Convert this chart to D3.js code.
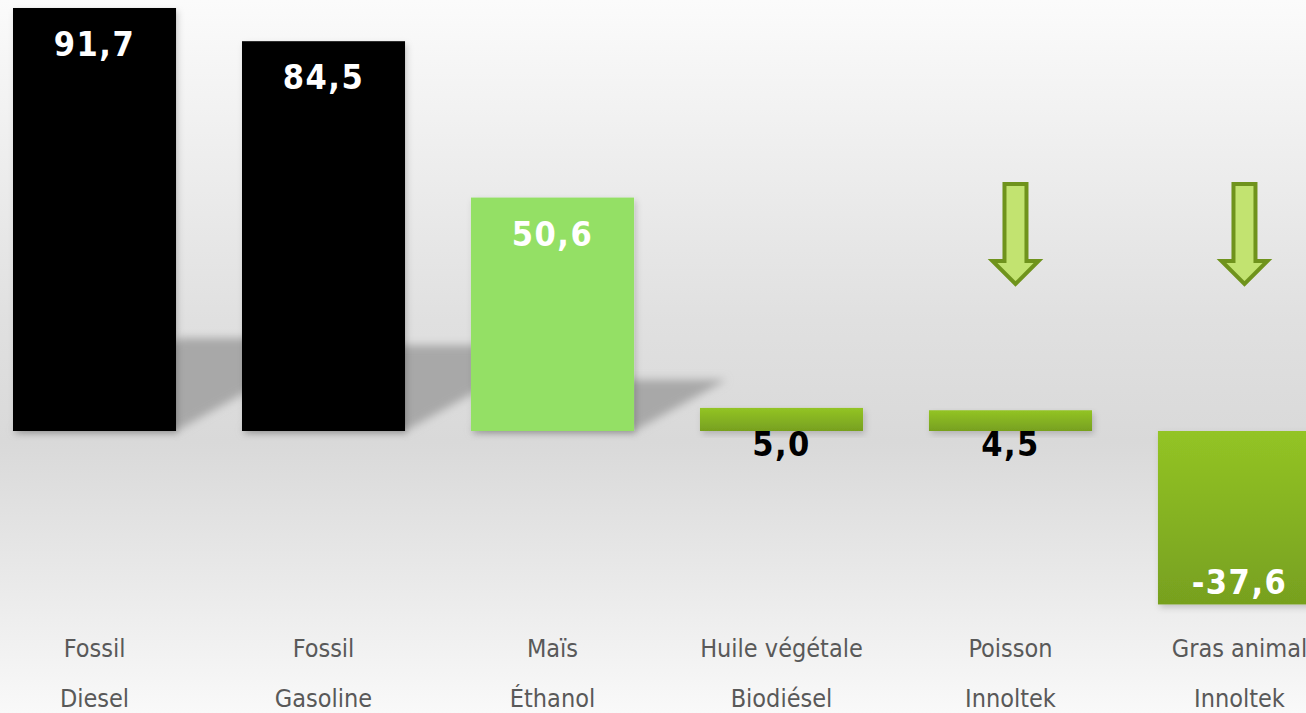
<!DOCTYPE html>
<html>
<head>
<meta charset="utf-8">
<script src="https://cdn.jsdelivr.net/npm/d3@7"></script>
<style>
  html, body { margin: 0; padding: 0; overflow: hidden; }
  svg { display: block; }
</style>
</head>
<body>
<div id="chart"></div>
<script>
// data
const line1 = ["Fossil", "Fossil", "Maïs", "Huile végétale", "Poisson", "Gras animal"];
const line2 = ["Diesel", "Gasoline", "Éthanol", "Biodiésel", "Innoltek", "Innoltek"];
const values = [91.7, 84.5, 50.6, 5.0, 4.5, -37.6];
const kinds = ["fossil", "fossil", "corn", "bio", "bio", "bio"];
const arrows = [false, false, false, false, true, true];

const width = 1306, height = 713;
// comma decimal, plain hyphen for negatives
const fmt = v => d3.format(".1f")(v).replace(".", ",").replace("\u2212", "-");

const svg = d3.select("#chart").append("svg")
    .attr("width", width)
    .attr("height", height);

const defs = svg.append("defs");

// background gradient
let bg = defs.append("linearGradient").attr("id", "bg")
    .attr("x1", 0).attr("y1", 0).attr("x2", 0).attr("y2", 1);
bg.append("stop").attr("offset", "0%").attr("stop-color", "#fbfbfb");
bg.append("stop").attr("offset", "45%").attr("stop-color", "#e0e0e0");
bg.append("stop").attr("offset", "62%").attr("stop-color", "#d9d9d9");
bg.append("stop").attr("offset", "100%").attr("stop-color", "#f9f9f9");

// green bar gradient
let gg = defs.append("linearGradient").attr("id", "greenGrad")
    .attr("x1", 0).attr("y1", 0).attr("x2", 0).attr("y2", 1);
gg.append("stop").attr("offset", "0%").attr("stop-color", "#93c425");
gg.append("stop").attr("offset", "100%").attr("stop-color", "#77a01f");

// blur for the floor shadows
defs.append("filter").attr("id", "blur")
    .attr("x", "-20%").attr("y", "-20%").attr("width", "140%").attr("height", "140%")
    .append("feGaussianBlur").attr("stdDeviation", 4.5);

// small drop shadow under bars
let ds = defs.append("filter").attr("id", "drop")
    .attr("x", "-10%").attr("y", "-10%").attr("width", "130%").attr("height", "140%");
ds.append("feDropShadow").attr("dx", 2).attr("dy", 3).attr("stdDeviation", 3)
    .attr("flood-color", "#000").attr("flood-opacity", 0.18);

svg.append("rect").attr("width", width).attr("height", height).attr("fill", "url(#bg)");

// scales
const x = d3.scaleBand()
    .domain(d3.range(values.length))
    .range([13, 1321])
    .paddingInner(0.288)
    .paddingOuter(0);

const y = d3.scaleLinear()
    .domain([0, 100])
    .range([431, -30.3]);

const base = y(0);
const colors = {fossil: "#000000", corn: "#94e065", bio: "url(#greenGrad)"};

// floor shadows (skewed, flattened copies of the positive bars)
const k = 0.22, shear = 1.8;
svg.append("g").attr("filter", "url(#blur)")
    .selectAll("path")
    .data(values.map((v, i) => ({v, i})).filter(d => d.v > 10))
    .join("path")
    .attr("fill", "#a8a8a8")
    .attr("d", d => {
        const h = (base - y(d.v)) * k;
        const x0 = x(d.i), x1 = x(d.i) + x.bandwidth();
        return `M${x0},${base} L${x1},${base} L${x1 + h * shear},${base - h} L${x0 + h * shear},${base - h} Z`;
    });

// bars
svg.append("g")
    .selectAll("rect")
    .data(values)
    .join("rect")
    .attr("x", (d, i) => x(i))
    .attr("y", d => Math.min(y(d), base))
    .attr("width", x.bandwidth())
    .attr("height", d => Math.abs(y(d) - base))
    .attr("fill", (d, i) => colors[kinds[i]])
    .attr("filter", "url(#drop)");

// value labels
svg.append("g")
    .selectAll("text")
    .data(values)
    .join("text")
    .attr("x", (d, i) => x(i) + x.bandwidth() / 2)
    .attr("y", d => {
        if (d < 0) return y(d) - 10;
        if (base - y(d) < 40) return base + 25;
        return y(d) + 48;
    })
    .attr("text-anchor", "middle")
    .attr("font-family", "'DejaVu Sans Condensed', 'DejaVu Sans', sans-serif")
    .attr("font-weight", "bold")
    .attr("font-size", 34)
    .attr("letter-spacing", 1.5)
    .attr("fill", d => (d > 0 && base - y(d) < 40) ? "#000" : "#fff")
    .text(d => fmt(d));

// category labels
const cat = svg.append("g")
    .attr("font-family", "'DejaVu Sans Condensed', 'DejaVu Sans', sans-serif")
    .attr("font-size", 25)
    .attr("fill", "#595959")
    .attr("text-anchor", "middle");

cat.selectAll(".l1").data(line1).join("text")
    .attr("class", "l1")
    .attr("x", (d, i) => x(i) + x.bandwidth() / 2)
    .attr("y", 657)
    .text(d => d);

cat.selectAll(".l2").data(line2).join("text")
    .attr("class", "l2")
    .attr("x", (d, i) => x(i) + x.bandwidth() / 2)
    .attr("y", 707)
    .text(d => d);

// down arrows over the Innoltek bars
const arrowPath = cx => {
    const top = 184, headY = 261, tip = 284, sw = 11, hw = 23;
    return `M${cx - sw},${top} L${cx + sw},${top} L${cx + sw},${headY} L${cx + hw},${headY} ` +
        `L${cx},${tip} L${cx - hw},${headY} L${cx - sw},${headY} Z`;
};

svg.append("g")
    .selectAll("path")
    .data(arrows.map((a, i) => ({a, i})).filter(d => d.a))
    .join("path")
    .attr("d", d => arrowPath(x(d.i) + x.bandwidth() / 2 + 5))
    .attr("fill", "#c2e370")
    .attr("stroke", "#6f931c")
    .attr("stroke-width", 4)
    .attr("stroke-linejoin", "miter");
</script>
</body>
</html>
